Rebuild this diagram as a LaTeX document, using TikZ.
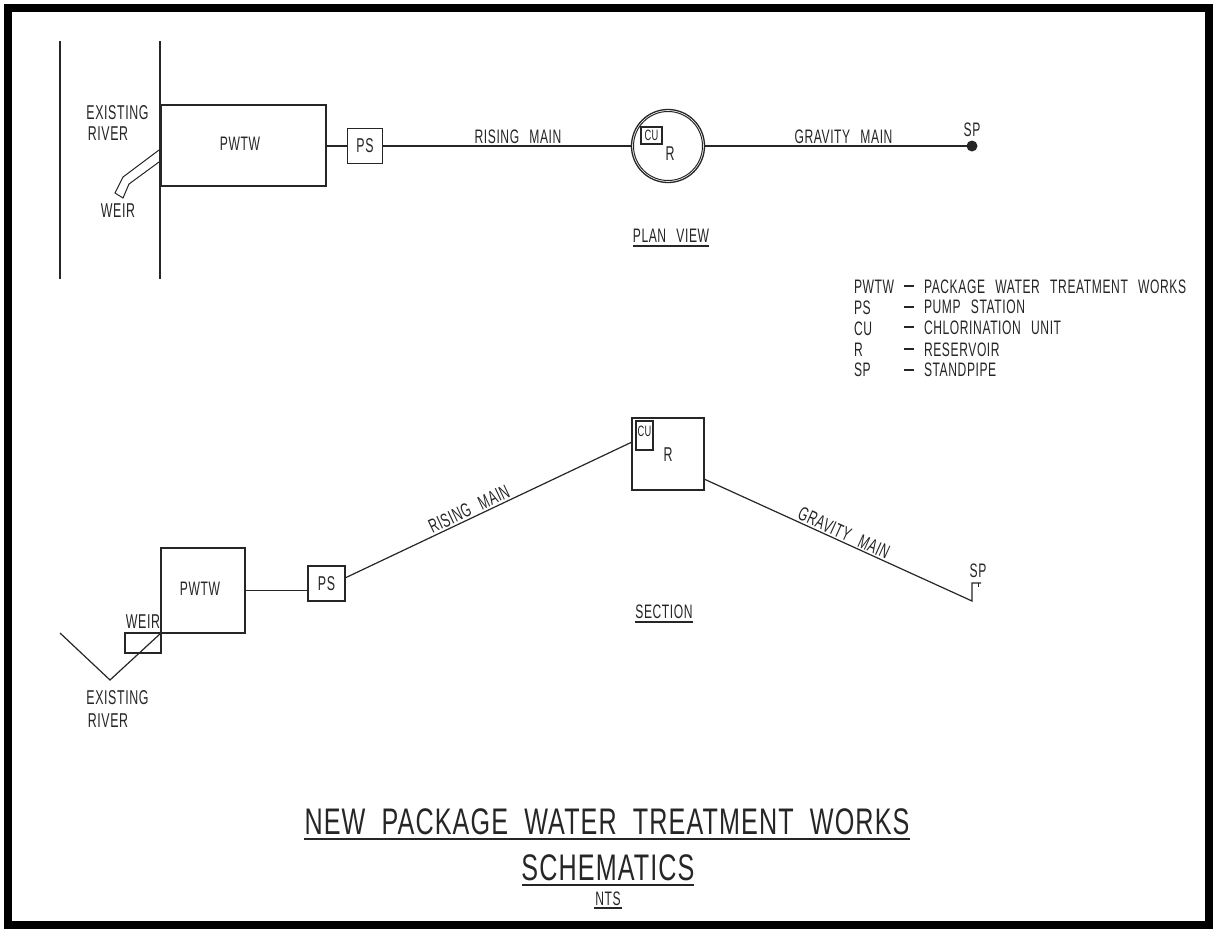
\documentclass[tikz,border=0pt]{standalone}
\usepackage{fontspec}
\setmainfont[FakeStretch=0.62,LetterSpace=3,WordSpace=2.6]{Liberation Sans}
\newfontfamily\titlefont[FakeStretch=0.68,LetterSpace=3,WordSpace=2.0]{Liberation Sans}
\definecolor{ink}{HTML}{262626}
\tikzset{
  every node/.style={inner sep=0pt,outer sep=0pt,text=ink},
  ln/.style={draw=ink,line width=1.2pt},
  boxn/.style={draw=ink,line width=1.4pt,rectangle,minimum width=#1},
  lbl/.style={font=\fontsize{20}{20}\selectfont},
  lbs/.style={font=\fontsize{19.5}{20}\selectfont},
  big/.style={font=\titlefont\fontsize{37}{40}\selectfont},
  tiny/.style={font=\fontsize{15}{16}\selectfont},
}
\begin{document}
\begin{tikzpicture}[x=1pt,y=-1pt]
\useasboundingbox (0,0) rectangle (1213,929);
\fill[white] (0,0) rectangle (1213,929);
\draw[black,line width=8pt] (7.5,8) rectangle (1209,925);

% plan view
\coordinate (rt) at (60,41); \coordinate (rb) at (60,279);
\coordinate (bt) at (160,41); \coordinate (bb) at (160,279);
\draw[ln] (rt) -- (rb);
\draw[ln] (bt) -- (bb);
\node[boxn=165pt,minimum height=81pt] (pwtwA) at (243.5,145.5) {};
\node[lbs] (pwtwAt) at (240,144) {PWTW};
\node[boxn=35pt,minimum height=35pt,lbl] (psA) at (365,146) {PS};
\node[circle,draw=ink,line width=1.3pt,minimum size=73pt] (resA) at (668,146) {};
\node[circle,draw=ink,line width=1pt,minimum size=69pt] (resAi) at (668,146) {};
\node[boxn=21pt,minimum height=17pt,tiny] (cuA) at (651.5,135.5) {CU};
\node[lbl] (rA) at (670,154) {R};
\node[circle,fill=ink,minimum size=11pt] (spA) at (972,146) {};
\node[lbs] (spAt) at (972,130) {SP};
\draw[ln] (pwtwA.east |- psA) -- (psA.west);
\draw[ln] (psA.east) -- (resA.west);
\draw[ln] (resA.east) -- (spA);
\node[lbs] (riseA) at (518,137) {RISING MAIN};
\node[lbs] (gravA) at (843.5,137) {GRAVITY MAIN};
\coordinate (w1) at (159,150); \coordinate (w2) at (123,177); \coordinate (w3) at (115,193);
\coordinate (w4) at (123,198); \coordinate (w5) at (129,184); \coordinate (w6) at (159,162);
\draw[ln,line width=1pt] (w1) -- (w2) -- (w3) -- (w4) -- (w5) -- (w6);
\node[lbl] (exA) at (117.5,113) {EXISTING};
\node[lbl] (rvA) at (108,134) {RIVER};
\node[lbl] (weA) at (118,211) {WEIR};
\node[lbs] (planv) at (671,236) {PLAN VIEW};
\coordinate (pu1) at (633,246); \coordinate (pu2) at (709,246);
\draw[ln] (pu1) -- (pu2);

% legend
\node[lbs,anchor=west] (k1) at (854,287) {PWTW};
\node[lbs,anchor=west] (k2) at (854,308) {PS};
\node[lbs,anchor=west] (k3) at (854,329) {CU};
\node[lbs,anchor=west] (k4) at (854,350) {R};
\node[lbs,anchor=west] (k5) at (854,370) {SP};
\foreach \n/\y in {1/286,2/307,3/327,4/349,5/370}{
  \coordinate (da\n) at (904,\y); \coordinate (db\n) at (914,\y);
  \draw[ln] (da\n) -- (db\n);
}
\node[lbs,anchor=west] (v1) at (924,287) {PACKAGE WATER TREATMENT WORKS};
\node[lbs,anchor=west] (v2) at (924,307) {PUMP STATION};
\node[lbs,anchor=west] (v3) at (924,328) {CHLORINATION UNIT};
\node[lbs,anchor=west] (v4) at (924,350) {RESERVOIR};
\node[lbs,anchor=west] (v5) at (924,370) {STANDPIPE};

% section
\coordinate (sr1) at (60,633); \coordinate (sr2) at (110,680); \coordinate (sr3) at (161,633);
\draw[ln] (sr1) -- (sr2) -- (sr3);
\node[boxn=84pt,minimum height=85pt] (pwtwB) at (203,590.5) {};
\node[lbs] (pwtwBt) at (200,589) {PWTW};
\node[boxn=36pt,minimum height=20pt] (weB) at (143,643) {};
\node[lbl] (weBt) at (143,622) {WEIR};
\node[lbl] (exB) at (117.5,698) {EXISTING};
\node[lbl] (rvB) at (108,721) {RIVER};
\node[boxn=37pt,minimum height=35pt,lbl] (psB) at (326.5,583.5) {PS};
\draw[ln] (pwtwB.east |- 0,590.5) -- (psB.west |- 0,590.5);
\node[boxn=72pt,minimum height=72pt] (resB) at (668,454) {};
\node[boxn=17pt,minimum height=29pt] (cuB) at (644.5,435.5) {};
\node[tiny] (cuBt) at (644.5,431) {CU};
\node[lbl] (rBt) at (668,455) {R};
\coordinate (ra) at (345,578); \coordinate (rb2) at (632,442);
\draw[ln] (ra) -- (rb2);
\coordinate (ga) at (704,479); \coordinate (gb) at (972,601); \coordinate (gc) at (972,583);
\coordinate (gd) at (981,583); \coordinate (ge) at (978,583); \coordinate (gf) at (978,587);
\draw[ln] (ga) -- (gb) -- (gc) -- (gd);
\draw[ln,line width=0.9pt] (ge) -- (gf);
\node[lbs] (spBt) at (978,571) {SP};
\node[lbs,rotate=25.4] (riseBt) at (469,509) {RISING MAIN};
\node[lbs,rotate=-24.5] (gravBt) at (844,533) {GRAVITY MAIN};
\node[lbs] (sect) at (664,612) {SECTION};
\coordinate (su1) at (635,622); \coordinate (su2) at (693,622);
\draw[ln] (su1) -- (su2);

% title
\node[big] (t1) at (607,822) {NEW PACKAGE WATER TREATMENT WORKS};
\coordinate (tu1) at (304,839); \coordinate (tu2) at (910,839);
\draw[ln] (tu1) -- (tu2);
\node[big] (t2) at (608,868) {SCHEMATICS};
\coordinate (tv1) at (522,885); \coordinate (tv2) at (694,885);
\draw[ln] (tv1) -- (tv2);
\node[lbs] (t3) at (608,899) {NTS};
\coordinate (tw1) at (594,908); \coordinate (tw2) at (622,908);
\draw[ln] (tw1) -- (tw2);
\end{tikzpicture}
\end{document}
